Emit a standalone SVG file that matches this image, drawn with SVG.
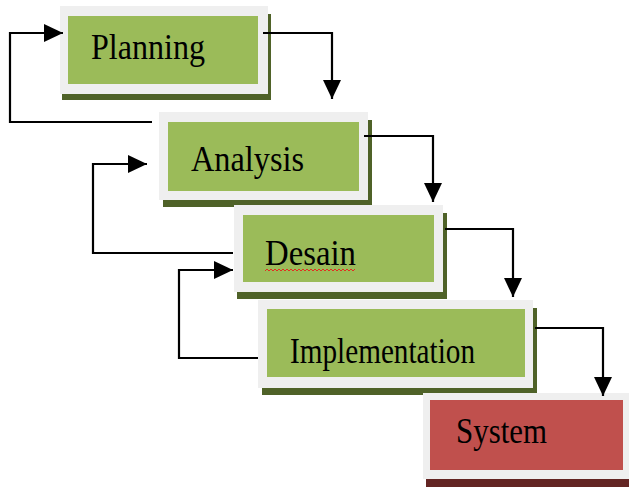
<svg xmlns="http://www.w3.org/2000/svg" width="629" height="487" viewBox="0 0 629 487">
<style>
.sh{fill:#4f6228}
.shr{fill:#632523}
.out{fill:#efefef}
.g{fill:#9bbb59}
.r{fill:#c0504d}
.t{font-family:"Liberation Serif","Times New Roman",serif;font-size:36px;fill:#000}
.c{fill:none;stroke:#000;stroke-width:2.2}
</style>
<defs>
<marker id="ah" markerUnits="userSpaceOnUse" markerWidth="20" markerHeight="20" viewBox="0 0 20 20" refX="19" refY="10" orient="auto">
<polygon points="0,1 19,10 0,19" fill="#000"/>
</marker>
</defs>
<rect width="629" height="487" fill="#fff"/>
<g id="planning">
<rect class="sh" x="62" y="14" width="209" height="86"/>
<rect class="out" x="60" y="6" width="208" height="88"/>
<rect class="g" x="68" y="16" width="190" height="68"/>
<text class="t" x="91" y="59" textLength="114" lengthAdjust="spacingAndGlyphs">Planning</text>
</g>
<g id="analysis">
<rect class="sh" x="163" y="120" width="209" height="87"/>
<rect class="out" x="159" y="112" width="209" height="88"/>
<rect class="g" x="168" y="122" width="191" height="69"/>
<text class="t" x="191" y="171" textLength="113" lengthAdjust="spacingAndGlyphs">Analysis</text>
</g>
<g id="desain">
<rect class="sh" x="237" y="213" width="210" height="86"/>
<rect class="out" x="234" y="205" width="209" height="87"/>
<rect class="g" x="243" y="215" width="191" height="67"/>
<text class="t" x="265" y="265" textLength="91" lengthAdjust="spacingAndGlyphs">Desain</text>
<path d="M265,271 l2,-2 l2,2 l2,-2 l2,2 l2,-2 l2,2 l2,-2 l2,2 l2,-2 l2,2 l2,-2 l2,2 l2,-2 l2,2 l2,-2 l2,2 l2,-2 l2,2 l2,-2 l2,2 l2,-2 l2,2 l2,-2 l2,2 l2,-2 l2,2 l2,-2 l2,2 l2,-2 l2,2 l2,-2 l2,2 l2,-2 l2,2 l2,-2 l2,2 l2,-2 l2,2 l2,-2 l2,2 l2,-2 l2,2 l2,-2 l2,2 l2,-2" fill="none" stroke="#e03020" stroke-width="1"/>
</g>
<g id="implementation">
<rect class="sh" x="262" y="308" width="275" height="87"/>
<rect class="out" x="258" y="300" width="275" height="88"/>
<rect class="g" x="267" y="309" width="258" height="68"/>
<text class="t" x="290" y="363" textLength="185" lengthAdjust="spacingAndGlyphs">Implementation</text>
</g>
<g id="system">
<rect class="shr" x="426" y="401" width="210" height="86"/>
<rect class="out" x="423" y="393" width="210" height="86"/>
<rect class="r" x="430" y="400" width="193" height="70"/>
<text class="t" x="456" y="443" textLength="91" lengthAdjust="spacingAndGlyphs">System</text>
</g>
<g id="connectors">
<path class="c" d="M263,33 H332 V99" marker-end="url(#ah)"/>
<path class="c" d="M152,122 H10 V33 H63" marker-end="url(#ah)"/>
<path class="c" d="M364,136 H433 V202" marker-end="url(#ah)"/>
<path class="c" d="M233,253 H93 V164 H147" marker-end="url(#ah)"/>
<path class="c" d="M445,229 H513 V297" marker-end="url(#ah)"/>
<path class="c" d="M258,358 H179 V270 H233" marker-end="url(#ah)"/>
<path class="c" d="M535,328 H603 V396" marker-end="url(#ah)"/>
</g>
</svg>
